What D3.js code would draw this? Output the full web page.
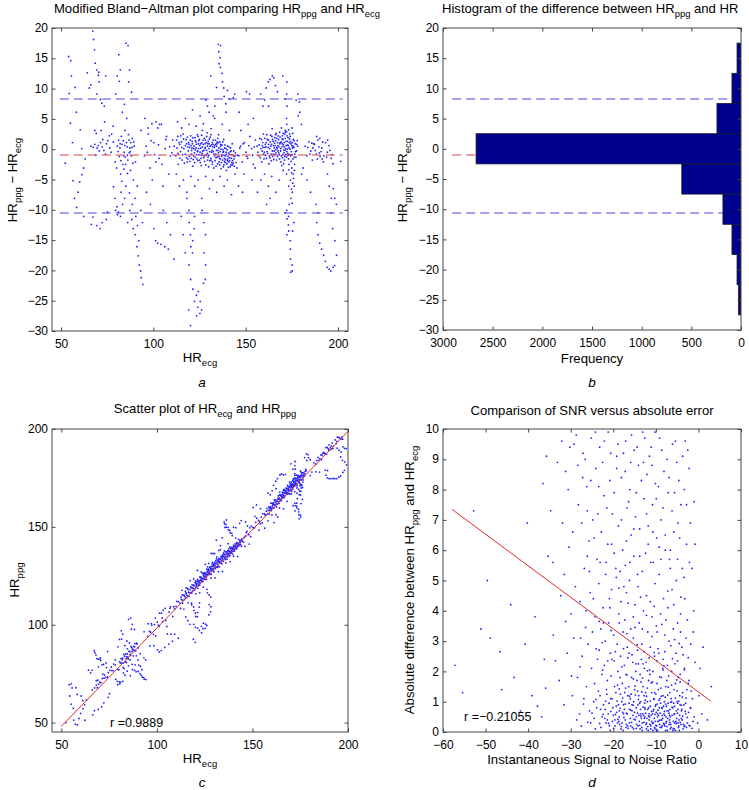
<!DOCTYPE html>
<html><head><meta charset="utf-8">
<script src="https://cdn.jsdelivr.net/npm/d3@7"></script>
<style>body{margin:0;background:#fff} svg{display:block;font-family:"Liberation Sans",Arial,Helvetica,sans-serif}</style>
</head><body>
<svg id="chart" width="749" height="790"></svg>
<script>
// ---------- DATA ----------
// Panel a: [HR_ecg, HR_ppg - HR_ecg]
const baPoints = [
[52.3,-2.3],[54.1,15.3],[55.2,14.6],[55.6,12.1],[54.4,9.2],[55.1,4.3],[56.2,1.1],[56.5,-5.2],[57.3,-8.1],[58.4,-9.6],[59.2,-7.1],[60.1,-5.4],[61.3,-4.2],[62.2,-3.1],[57.6,10.2],[58.3,6.1],[60.4,3.2],[61.2,0.1],[63.1,-1.6],[64.2,12.6],[65.3,10.1],[66.1,10.6],[67.2,19.5],[67.6,18.1],[68.1,16.4],[68.5,14.2],[69.3,13.1],[70.2,12.2],[70.6,11.1],[69.4,9.1],[68.3,3.1],[69.1,2.6],[70.4,12.7],[71.3,8.2],[72.1,7.6],[73.4,7.1],[74.2,12.1],[72.2,-12.1],[69.3,-12.6],[66.4,-12.4],[74.5,-11.6],[62.3,-11.1],[75.2,-10.4],[71.1,-13.1],[67.3,-11.2],
[66.2,0.5],[67.4,0.3],[68.3,0.8],[69.5,0.2],[70.1,0.6],[71.4,1.1],[72.3,0.4],[73.2,-0.2],[74.6,0.9],[75.3,1.4],[76.4,0.2],[77.1,-0.5],[70.7,-0.3],[72.6,1.6],[74.1,-0.8],[76.2,2.2],[78.3,1.2],[68.8,-1.0],[71.7,3.1],[73.6,4.5],
[77.4,2.5],[78.2,3.8],[79.3,-2.1],[80.1,-3.1],[80.5,0.5],[81.2,1.5],[81.6,-1.2],[82.3,-4.1],[82.7,2.1],[83.1,0.8],[83.5,-2.5],[84.2,-0.5],[84.6,3.1],[85.1,-6.1],[85.4,1.1],[86.2,-1.8],[86.5,2.4],[87.3,0.2],[87.6,-3.5],[88.1,-1.1],[88.5,1.8],[89.2,-5.1],[89.6,0.5],[90.3,-2.1],[78.4,-6.2],[79.2,-8.1],[80.3,-9.5],[81.1,-10.4],[82.2,-11.1],[80.6,-10.8],[79.5,-10.1],[82.5,-7.1],[83.3,-9.1],[84.4,-8.1],[81.3,15.6],[80.4,12.1],[81.5,11.2],[82.1,13.1],[79.6,9.1],[85.2,17.5],[86.3,17.1],[87.1,13.1],[86.6,11.1],[88.2,9.4],[84.3,7.4],[83.2,6.1],[85.6,5.1],[86.1,-12.1],[87.2,-10.1],[88.3,-11.6],[89.1,-13.1],[90.2,-14.1],[91.1,-16.1],[91.8,-17.6],[92.3,-19.1],[93.1,-20.1],[93.4,-21.2],[94.3,-22.3],[92.1,-15.1],[91.4,-12.6],[90.5,-11.1],[88.6,-9.1],[90.1,-8.1],[91.3,-6.1],[93.2,-10.1],[94.1,-12.1],
[80.9,-0.4],[81.9,0.2],[82.4,-1.9],[83.7,1.4],[84.8,-1.3],[85.8,0.4],[86.9,-0.6],[87.8,1.1],[88.9,-2.3],[89.4,1.2],[84.0,-3.3],[86.0,-4.0],[82.9,-5.3],[87.0,-7.2],
[84.5,0.6],[85.9,-1.0],[86.8,1.5],[87.5,-0.4],[88.4,0.3],[85.0,-2.5],[83.9,-1.1],[82.0,0.9],
[95.2,-1.1],[96.1,0.5],[97.3,2.5],[98.2,-3.1],[99.4,-5.1],[100.2,1.1],[101.3,-2.1],[102.4,3.5],[103.1,-1.5],[104.3,4.1],[105.2,-6.1],[106.4,0.1],[107.1,2.1],[108.3,-4.1],[109.2,-1.1],[110.4,1.5],[96.3,-7.1],[98.4,-9.1],[100.3,-13.1],[101.2,-15.1],[102.3,-15.5],[104.1,-15.7],[106.2,-16.1],[108.1,-16.5],[109.3,-14.1],[111.2,-18.1],[105.4,-10.1],[107.3,-12.1],[97.1,3.5],[99.2,4.2],[101.4,4.5],[103.3,4.1],[95.4,5.1],[93.3,3.1],
[96.7,-0.5],[98.7,1.4],[100.7,-0.9],[102.8,0.7],[104.7,-2.5],[106.8,1.6],[108.8,0.4],[110.0,-0.6],
[111.3,0.5],[112.1,-1.1],[112.6,1.5],[113.2,2.1],[113.5,-2.5],[114.3,0.8],[114.7,-0.4],[115.2,1.2],[115.6,-1.8],[116.1,2.5],[116.5,0.1],[117.2,-0.8],[117.7,1.6],[118.3,-2.1],[118.6,0.4],[119.1,1.1],[119.5,-1.2],[120.2,2.2],[120.7,-0.2],[121.1,0.9],[121.4,-2.8],[122.2,-0.6],[122.8,1.4],[123.1,0.2],[123.6,-1.6],[124.2,2.1],[124.7,-0.9],[125.1,0.6],[125.4,-2.2],[126.3,1.1],[126.8,-0.3],[127.2,-1.4],[127.6,1.8],[128.1,0.3],[128.4,-2.6],[129.2,-0.7],[129.7,1.3],[130.1,0.1],[130.6,-1.9],[131.2,2.4],[131.5,-0.5],[132.3,0.8],[132.7,-3.1],[133.1,-1.1],[133.6,1.5],[134.2,-0.2],[134.8,-2.4],[135.1,1.1],[135.4,-1.2],[136.2,-0.4],[136.7,-3.2],[137.1,0.7],[137.5,-1.8],[138.2,-2.6],[138.6,0.2],[139.1,-1.1],[139.6,-3.5],[140.2,0.5],[140.7,-2.1],[141.1,-0.8],[141.6,-2.9],[142.2,-1.5],[142.7,0.9],[143.2,-2.3],[143.5,-0.3],[144.1,-1.2],[145.3,-3.1],
[120.4,0.6],[121.8,-1.1],[122.5,1.9],[123.9,-0.3],[124.4,0.9],[125.8,-1.5],[126.1,2.3],[127.9,0.1],[128.7,1.1],[129.4,-1.8],[130.3,1.7],[131.8,-2.5],[132.1,0.4],[133.8,-0.8],[134.5,1.2],[135.7,-2.1],[136.4,0.5],[137.8,-0.5],[138.4,-1.5],[139.3,0.1],[140.4,-1.2],[141.8,0.2],[142.4,-2.2],[129.1,2.7],[131.3,3.4],[126.5,3.1],[135.3,2.4],[138.1,1.6],
[112.8,0.2],[113.3,-0.7],[113.9,1.1],[114.4,-1.5],[114.9,2.2],[115.4,0.3],[115.8,-0.9],[116.3,1.7],[116.8,-2.3],[117.3,0.6],[117.9,-1.4],[118.4,2.0],[118.9,-0.3],[119.3,0.8],[119.8,-2.0],[120.0,1.5],[120.6,-0.8],[120.9,0.2],[121.3,1.9],[121.6,-1.7],[122.0,0.5],[122.4,-2.2],[122.7,-0.1],[123.0,1.2],[123.4,-0.9],[123.8,2.4],[124.1,-1.9],[124.5,0.1],[124.9,1.6],[125.3,-0.5],[125.6,0.9],[125.9,-2.7],[126.2,-1.0],[126.6,0.4],[126.9,1.5],[127.3,-0.2],[127.7,-2.0],[128.0,0.9],[128.5,-1.0],[128.9,2.1],[129.3,0.5],[129.6,-1.3],[129.9,-2.9],[130.2,0.9],[130.5,-0.4],[130.8,2.0],[131.1,-1.5],[131.4,0.7],[131.7,-0.2],[132.0,-2.1],[132.4,1.5],[132.8,-0.8],[133.0,0.3],[133.4,-1.9],[133.7,0.8],[134.0,-2.8],[134.3,0.5],[134.6,-1.3],[134.9,1.8],[135.2,-0.6],[135.5,0.2],[135.9,-2.6],[136.0,1.2],[136.3,-1.6],[136.6,0.0],[136.9,-2.2],[137.3,-0.9],[137.6,1.2],[137.9,-2.9],[138.0,-0.4],[138.5,-2.0],[138.8,0.7],[139.0,-1.7],[139.4,-0.5],[139.8,-2.4],[140.0,-0.1],[140.3,-1.6],[140.6,-3.0],[140.9,0.4],[141.3,-1.9],[141.7,-0.4],[142.0,-2.6],[142.5,-0.9],[142.9,-1.9],[143.4,-1.1],[143.8,-2.8],[144.4,-0.6],[144.8,-2.2],[145.6,-1.0],
[118.0,0.9],[118.7,-1.6],[119.6,0.3],[120.5,-1.5],[121.0,1.3],[121.9,0.1],[122.6,-1.3],[123.3,0.8],[124.0,-0.4],[124.6,1.4],[125.0,-1.8],[125.7,0.2],[126.4,-0.7],[127.0,0.8],[127.5,-1.1],[128.2,1.5],[128.8,-0.2],[129.5,0.9],[130.0,-1.0],[130.7,0.5],[131.3,-1.8],[131.9,1.1],[132.5,-0.4],[133.2,0.6],[133.9,-1.4],[134.4,0.9],[135.0,-0.2],[135.8,-1.5],[136.5,0.8],[137.0,-1.2],[137.7,-0.1],[138.3,-1.0],[138.9,-2.2],[139.5,-0.8],[140.1,-1.9],[140.8,-0.6],[141.4,-1.4],[142.1,-0.3],[142.8,-2.6],[143.6,-1.6],
[112.4,-4.1],[114.1,-6.1],[116.3,-5.1],[118.1,-7.1],[120.3,-4.5],[122.4,-6.1],[124.3,-5.1],[126.2,-8.1],[128.3,-4.5],[130.4,-6.5],[132.2,-5.1],[134.3,-7.1],[136.1,-4.5],[138.3,-6.1],[140.1,-5.1],[142.3,-7.5],[144.2,-4.1],[146.1,-6.1],[113.1,4.5],[115.3,3.5],[117.4,5.1],[119.3,4.1],[121.2,6.5],[123.2,3.8],[125.3,5.5],[127.1,4.2],[129.3,7.1],[133.2,5.1],[137.3,4.1],[141.2,3.1],
[118.2,-8.1],[119.2,-10.1],[119.4,-12.1],[120.1,-14.1],[120.3,-16.1],[121.2,-17.1],[121.3,-15.1],[122.1,-13.1],[122.3,-11.1],[120.2,-21.5],[119.3,-19.1],[121.4,-23.1],[122.2,-25.1],[123.3,-24.1],[124.1,-26.1],[123.4,-27.5],[125.2,-27.1],[126.1,-26.5],[124.3,-23.5],[125.4,-25.1],[120.1,-29.1],[119.1,-26.5],[127.2,-22.1],[128.1,-21.5],[128.3,-19.1],[127.4,-17.1],[128.2,-14.1],[127.3,-12.1],[126.4,-10.1],[117.3,-17.1],[116.2,-14.1],[115.1,-11.1],
[135.2,17.3],[135.4,16.1],[136.1,15.1],[136.3,13.5],[137.2,12.5],[137.4,11.1],[138.1,10.1],[138.3,8.7],[139.2,7.5],[136.4,17.1],[135.6,14.1],[134.2,10.2],[140.1,9.7],[141.3,8.3],[139.4,6.1],[133.3,7.1],[132.4,5.5],[130.2,6.1],[128.4,8.1],[131.1,12.1],[143.3,8.5],[144.1,9.1],
[146.3,-1.1],[147.2,0.5],[148.1,-2.1],[149.3,1.1],[150.2,-0.5],[151.1,-1.5],[152.3,2.1],[153.2,0.1],[154.1,-2.5],[155.3,1.5],[147.4,3.1],[149.1,-4.1],[151.3,4.1],[153.4,-5.1],[155.1,-3.1],[148.3,-7.1],[150.4,9.5],[152.1,9.1],[146.4,6.1],[154.2,5.1],
[146.8,0.2],[148.6,0.9],[150.6,-1.2],[151.7,0.6],[153.7,-1.0],[154.6,0.4],
[156.2,0.5],[157.1,-1.1],[157.6,1.8],[158.3,0.1],[158.7,-2.1],[159.2,1.1],[159.6,2.5],[160.1,-0.5],[160.6,0.8],[161.2,-1.5],[161.7,1.6],[162.1,0.3],[162.6,-2.4],[163.3,1.2],[163.7,-0.8],[164.2,2.1],[164.6,-1.2],[165.1,0.6],[165.4,-0.3],[166.2,1.4],[166.7,-1.8],[167.1,0.1],[167.6,2.2],[168.2,-0.9],[168.7,1.1],[169.1,-2.1],[169.6,0.4],[170.2,1.6],[170.7,-0.6],[171.1,2.5],[171.6,0.1],[172.2,-1.3],[172.6,1.3],[173.1,0.6],[173.4,-2.5],[174.1,2.1],[174.7,-0.4],[175.2,1.1],[175.6,-1.6],[176.1,0.3],[176.6,-0.8],[177.2,-1.3],[178.1,0.5],
[165.5,0.2],[166.4,-0.6],[167.3,1.1],[168.4,2.8],[169.3,-1.1],[170.4,0.7],[171.3,-0.2],[172.4,2.2],[173.6,1.1],[174.4,-1.1],[175.4,2.6],[171.4,3.1],[173.2,3.2],[169.4,3.5],[175.1,3.5],[164.3,3.4],
[156.6,-0.5],[157.3,0.7],[157.9,-1.4],[158.5,1.6],[158.9,-0.3],[159.4,0.3],[159.9,-1.6],[160.3,1.8],[160.8,-1.0],[161.0,0.4],[161.4,2.4],[161.9,-0.7],[162.3,1.5],[162.8,-1.1],[163.0,0.1],[163.5,2.3],[163.9,-1.9],[164.0,0.8],[164.4,-0.3],[164.9,1.3],[165.2,-1.7],[165.7,1.9],[165.9,-0.9],[166.0,0.6],[166.5,2.6],[166.9,0.3],[167.2,-1.2],[167.5,-0.3],[167.8,1.6],[168.0,0.4],[168.3,-1.6],[168.6,2.0],[168.9,-0.3],[169.2,1.2],[169.5,-2.7],[169.8,0.9],[170.0,-1.4],[170.3,2.6],[170.6,-0.1],[170.9,1.1],[171.0,-1.8],[171.4,1.8],[171.7,-0.9],[171.9,0.6],[172.1,2.9],[172.5,0.0],[172.8,-0.7],[172.9,1.9],[173.2,-1.6],[173.5,0.2],[173.8,2.5],[173.9,-0.9],[174.3,1.3],[174.6,-2.0],[174.9,0.6],[175.0,-3.1],[175.3,0.2],[175.8,1.6],[176.3,-1.3],[176.8,0.9],[177.5,-0.3],[177.9,1.4],[176.5,-2.5],[175.9,-4.8],[175.5,-5.6],[174.8,-6.6],[175.2,-8.9],[174.9,-3.9],
[159.0,0.6],[159.7,-0.8],[160.4,0.3],[161.1,1.1],[161.6,-0.4],[162.4,0.8],[163.1,-1.4],[163.6,0.5],[164.5,1.6],[165.0,-0.8],[165.6,1.0],[166.3,-0.1],[166.8,1.8],[167.4,0.6],[167.9,-0.6],[168.5,0.9],[169.0,0.1],[169.7,1.7],[170.1,-0.9],[170.8,0.4],[171.2,-1.2],[171.8,1.3],[172.3,-0.4],[172.7,0.7],[173.0,-1.0],[173.7,1.7],[174.0,0.0],[174.5,0.9],[175.1,-0.9],[175.7,0.5],[176.2,1.4],[176.9,-0.4],[177.6,0.8],[169.9,2.2],[171.5,2.8],[166.2,2.4],[173.3,-3.4],[170.5,-2.4],
[160.2,-4.1],[162.3,-6.1],[164.1,-4.5],[166.3,-7.1],[168.1,-5.1],[170.3,-3.5],[172.1,-4.1],[173.3,-6.1],[174.2,-5.1],[175.3,-7.1],[176.2,-6.1],[174.5,-8.1],[175.7,-4.1],[176.4,-3.5],[173.5,-9.1],[158.2,-5.1],[156.4,-7.1],[161.3,-9.1],[163.2,-8.1],
[160.3,8.1],[161.1,10.1],[162.2,11.1],[163.1,11.5],[164.4,12.1],[165.2,11.8],[166.1,10.5],[162.4,7.1],[170.1,12.1],[172.3,11.1],[172.2,9.1],[172.4,7.1],[172.1,5.1],[172.3,4.1],[167.2,9.5],[171.2,8.3],[158.1,9.1],[159.3,7.1],[178.2,9.1],[179.1,7.8],[179.3,6.1],[180.2,4.1],[178.4,5.5],[177.3,8.1],
[172.2,-10.1],[172.4,-11.5],[173.1,-12.5],[173.3,-13.5],[172.3,-14.1],[174.1,-15.1],[174.2,-16.5],[174.3,-18.1],[175.1,-19.1],[175.2,-20.1],[174.4,-20.3],[173.2,-11.1],[171.3,-10.5],[175.4,-13.5],[176.1,-12.1],
[182.2,0.5],[183.1,-1.1],[184.3,1.2],[185.2,-0.3],[186.1,-1.8],[187.3,0.8],[188.2,-0.8],[189.1,1.5],[190.3,-1.2],[191.2,0.2],[192.1,-2.1],[193.3,1.1],[194.2,-0.5],[195.1,0.6],[196.3,-1.5],[197.2,-2.4],[188.4,2.1],[190.1,1.8],[186.4,0.2],[194.4,1.5],[192.3,-1.1],
[183.6,0.3],[184.8,-0.8],[186.8,0.9],[188.8,-1.6],[189.6,0.4],[190.8,-0.4],[191.7,1.2],[193.8,-1.3],[195.6,-0.2],[196.8,-0.9],[189.9,-0.6],[191.4,-1.6],[187.7,-0.2],[185.8,1.0],
[188.1,-9.1],[188.5,-12.1],[189.2,-14.1],[190.1,-15.5],[191.1,-16.5],[192.2,-17.5],[193.1,-18.5],[194.1,-19.5],[195.2,-19.8],[196.1,-20.1],[197.3,-19.5],[198.1,-19.2],[199.2,-17.5],[198.3,-15.1],[197.1,-13.1],[196.2,-10.5],[196.4,-8.1],[195.3,-6.1],[194.3,-4.1],[197.4,-6.5],[198.2,-8.1],[199.1,-9.1],[189.3,-10.5],[185.1,-7.1],[183.2,-5.1],[181.1,-3.1],[180.3,-4.1],[201.5,-2.0]
];
const baMean = -1.1, baUpper = 8.4, baLower = -10.6;

// Panel b: histogram of differences
const histCenters = [-25, -20, -15, -10, -5, 0, 5, 10, 15];
const histCounts  = [24, 40, 91, 182, 596, 2667, 242, 91, 40];
const histBinWidth = 5;

// Panel c: fitted line end points and correlation
const fitC = [[50, 48.1], [200, 198.8]];
const labelC = "r =0.9889";

// Panel d: [instantaneous SNR, |HR_ppg - HR_ecg|]
const snrPoints = [
[-57.2,2.2],[-55.4,1.3],[-52.8,7.3],[-51.1,3.4],[-49.6,5.0],[-48.9,3.1],[-46.2,1.4],[-44.1,4.2],[-43.3,1.8],[-41.8,0.7],[-40.7,2.9],[-40.2,6.9],[-39.1,1.2],[-38.4,3.8],[-36.8,0.5],[-36.2,2.4],[-35.3,5.8],[-35.7,9.1],[-34.1,3.2],[-34.7,7.3],[-32.7,1.7],[-32.3,4.5],[-31.6,0.9],[-31.2,8.6],[-30.8,2.6],[-30.4,6.1],[-29.9,3.9],[-29.6,1.2],[-29.2,9.5],[-28.9,4.8],[-28.6,0.4],
[-28.2,7.5],[-27.7,3.1],[-28.4,1.8],[-27.9,0.6],[-27.1,9.2],[-26.8,5.4],[-27.3,2.5],[-26.9,1.1],[-27.5,0.2],[-26.2,8.1],[-25.7,6.3],[-26.4,4.0],[-25.9,2.9],[-26.3,1.5],[-25.6,0.7],[-25.2,9.7],[-24.8,7.0],[-25.4,4.6],[-24.9,3.3],[-25.1,2.1],[-24.6,1.0],[-25.3,0.3],[-24.1,8.7],[-23.8,5.7],[-24.3,3.8],[-23.7,2.4],[-24.4,1.6],[-23.9,0.8],[-24.2,0.1],[-23.2,9.4],[-22.8,6.6],[-23.4,4.9],[-22.9,3.4],[-23.3,2.7],[-22.7,1.9],[-23.1,1.2],[-22.6,0.5],[-22.2,7.8],[-21.8,5.2],[-22.4,4.1],[-21.9,3.0],[-22.1,2.2],[-21.6,1.4],[-22.3,0.9],[-21.7,0.3],[-21.2,9.9],[-20.8,8.3],[-21.3,6.2],[-20.9,4.4],[-21.1,3.6],[-20.7,2.6],[-21.4,1.7],[-20.6,1.1],[-21.2,0.6],[-20.9,0.2],[-20.2,7.2],[-19.8,5.9],[-20.4,4.7],[-19.9,3.2],[-20.3,2.4],[-19.7,1.5],[-20.1,0.8],[-19.6,0.4],
[-19.2,9.1],[-18.8,6.8],[-19.3,5.1],[-18.7,3.9],[-19.1,2.9],[-18.9,2.0],[-19.4,1.3],[-18.6,0.7],[-19.0,0.3],[-18.4,1.8],[-18.6,0.5],[-18.1,8.4],[-17.8,6.0],[-18.2,4.3],[-17.7,3.3],[-18.3,2.5],[-17.9,1.6],[-18.0,1.0],[-17.6,0.6],[-18.2,0.1],[-17.4,2.2],[-17.6,0.9],[-17.1,9.6],[-16.8,7.4],[-17.2,5.5],[-16.9,4.6],[-17.3,3.7],[-16.7,2.8],[-17.0,1.9],[-16.6,1.2],[-17.2,0.4],[-16.4,1.5],[-16.6,0.2],[-16.1,8.0],[-15.8,6.5],[-16.2,5.0],[-15.9,3.4],[-16.3,2.6],[-15.7,1.8],[-16.0,1.1],[-15.6,0.7],[-16.2,0.3],[-15.4,2.3],[-15.6,0.9],[-15.1,9.3],[-14.8,7.1],[-15.2,5.8],[-14.9,4.2],[-15.3,3.1],[-14.7,2.0],[-15.0,1.4],[-14.6,0.5],[-15.2,0.1],[-14.4,1.7],[-14.6,0.8],[-14.1,8.8],[-13.8,6.7],[-14.2,4.8],[-13.9,3.6],[-14.3,2.7],[-13.7,1.9],[-14.0,1.2],[-13.6,0.6],[-14.2,0.2],[-13.4,2.4],[-13.6,1.0],[-13.1,9.9],[-12.8,7.7],[-13.2,5.3],[-12.9,4.0],[-13.3,2.9],[-12.7,2.1],[-13.0,1.5],[-12.6,0.8],[-13.2,0.3],[-12.4,1.3],[-12.6,0.5],[-12.1,8.5],[-11.8,6.2],[-12.2,4.5],[-11.9,3.3],[-12.3,2.3],[-11.7,1.7],[-12.0,1.0],[-11.6,0.6],[-12.2,0.1],[-11.4,1.9],[-11.6,0.4],[-11.1,9.4],[-10.8,7.5],[-11.2,5.6],[-10.9,3.8],[-11.3,2.8],[-10.7,2.0],[-11.0,1.3],[-10.6,0.7],[-11.2,0.2],[-10.4,1.1],[-10.6,0.3],[-10.1,8.2],[-9.8,6.4],[-10.2,4.9],[-9.9,3.5],[-10.3,2.5],[-9.7,1.6],[-10.0,0.9],[-9.6,0.5],[-10.2,0.1],
[-9.4,1.4],[-9.6,0.6],[-9.1,9.7],[-8.8,7.0],[-9.2,5.2],[-8.9,3.9],[-9.3,2.6],[-8.7,1.8],[-9.0,1.1],[-8.6,0.4],[-8.4,2.1],[-8.6,0.8],[-8.5,0.2],[-8.1,8.6],[-7.8,6.0],[-8.2,4.4],[-7.9,3.2],[-8.3,2.4],[-7.7,1.5],[-8.0,1.0],[-7.6,0.5],[-7.4,1.7],[-7.6,0.3],[-7.1,7.9],[-6.8,5.7],[-7.2,4.1],[-6.9,3.0],[-7.3,2.2],[-6.7,1.3],[-7.0,0.7],[-6.6,0.1],[-6.4,1.1],[-6.6,0.5],[-6.1,9.5],[-5.8,6.6],[-6.2,4.7],[-5.9,3.4],[-6.3,2.0],[-5.7,1.4],[-6.0,0.8],[-5.6,0.3],[-5.4,1.6],[-5.6,0.6],[-5.1,8.9],[-4.8,6.9],[-5.2,5.0],[-4.9,3.6],[-5.3,2.6],[-4.7,1.8],[-5.0,1.0],[-4.6,0.4],[-4.4,1.2],[-4.6,0.2],[-4.1,7.5],[-3.8,5.4],[-4.2,3.9],[-3.9,2.8],[-4.3,1.9],[-3.7,1.3],[-4.0,0.7],[-3.6,0.1],[-3.4,0.9],[-3.1,9.6],[-2.8,6.2],[-3.2,4.4],[-2.9,3.1],[-3.3,2.1],[-2.7,1.4],[-3.0,0.6],[-2.4,1.6],[-2.6,0.3],[-2.1,5.6],[-1.8,2.9],[-2.2,1.7],[-1.9,0.8],[-2.0,0.2],[-1.4,1.1],[-1.1,4.0],[-0.8,2.3],[-1.0,0.5],[0.1,1.2],[-0.2,0.3],[1.1,2.8],[0.8,0.6],[2.1,0.4],[3.0,1.5],
[-32.1,9.6],[-30.2,9.4],[-28.3,8.8],[-27.4,6.9],[-26.6,9.0],[-25.3,8.3],[-24.2,9.9],[-23.6,7.2],[-22.5,8.9],[-21.7,5.6],[-20.6,9.2],[-19.8,7.9],[-18.9,9.5],[-18.1,7.0],[-17.2,8.6],[-16.4,7.6],[-15.7,9.8],[-14.6,7.9],[-13.4,8.3],[-12.6,9.7],[-11.8,6.8],[-10.9,8.8],[-10.2,9.9],[-9.4,8.1],[-8.6,9.3],[-7.8,6.5],[-6.9,8.4],[-6.2,7.3],[-5.4,9.6],[-4.6,8.3],[-3.7,9.1],[-2.8,7.5],[-2.2,8.7],[-1.5,5.4],[-0.8,6.2],
[-36.5,8.2],[-34.2,5.6],[-33.1,8.9],[-31.9,6.9],[-30.6,8.0],[-29.5,6.6],[-28.7,9.8],[-27.2,8.4],[-26.1,7.3],[-25.6,5.3],[-24.5,6.4],[-23.4,8.1],[-22.1,9.6],[-21.5,7.4],[-20.4,6.2],[-19.2,8.7],[-18.4,5.3],[-17.6,9.2],[-16.9,6.3],[-15.9,8.9],[-15.2,6.7],[-14.4,9.4],[-13.8,5.8],[-12.9,8.9],[-12.2,7.2],[-11.5,9.1],[-10.7,6.6],[-9.9,7.7],[-9.2,6.1],[-8.3,7.4],[-7.4,9.0],[-6.6,6.0],[-5.6,7.9],[-4.4,6.4],[-3.3,8.0],[-2.5,9.3],[-1.9,6.9],[-1.0,7.6],
[-31.5,5.2],[-29.3,3.1],[-27.8,4.3],[-26.1,5.8],[-24.7,4.4],[-23.1,5.6],[-22.3,3.6],[-20.8,4.1],[-19.4,5.4],[-18.6,3.6],[-17.5,4.8],[-16.1,5.6],[-15.3,3.8],[-14.3,5.2],[-13.2,3.4],[-12.4,5.9],[-11.3,4.3],[-10.6,5.6],[-9.7,3.3],[-8.8,5.7],[-7.6,3.7],[-6.6,5.4],[-5.8,4.2],[-4.9,5.7],[-4.2,3.3],[-3.4,5.1],[-2.6,3.7],[-1.2,3.3],[0.4,2.1],
[-24.0,2.75],[-23.3,3.65],[-22.6,2.95],[-21.3,2.35],[-20.5,3.35],[-19.5,2.65],[-18.7,4.75],[-17.6,2.75],[-16.8,3.25],[-16.5,4.25],[-15.6,2.55],[-14.9,3.45],[-14.1,2.25],[-13.6,4.45],[-12.8,2.65],[-12.2,3.85],[-11.6,2.45],[-10.9,3.15],[-10.4,4.15],[-9.5,2.75],[-8.6,3.55],[-7.9,2.65],[-7.2,4.65],[-6.5,2.85],[-5.6,3.05],[-4.9,2.35],[-4.1,4.45],[-3.6,2.55],[-2.4,2.45],[-26.5,3.45],[-27.8,2.15],[-29.8,1.85],[-31.2,3.65],[-33.6,2.35],[-35.9,1.45],[-37.8,0.85],[-44.8,0.65],[-46.6,2.65],
[-21.4,0.4],[-20.3,1.1],[-19.6,0.2],[-18.8,0.9],[-17.9,0.3],[-17.3,1.3],[-16.7,0.6],[-15.9,0.2],[-15.2,1.0],[-14.8,0.4],[-14.2,0.9],[-13.7,0.1],[-13.1,0.6],[-12.8,1.2],[-12.2,0.3],[-11.7,0.8],[-11.2,0.1],[-10.8,0.6],[-10.3,1.3],[-9.8,0.2],[-9.2,0.8],[-8.8,0.4],[-8.3,1.2],[-7.9,0.2],[-7.4,0.7],[-6.8,0.4],[-6.3,1.0],[-5.7,0.1],[-5.2,0.7],[-4.8,0.3],[-4.3,0.9],[-3.8,0.4],[-3.2,0.2],[-9.6,0.05],[-11.5,0.5],[-8.1,0.6],[-10.1,0.35],[-12.5,0.75],[-7.2,0.45],[-13.4,0.45],
[-24.5,0.45],[-23.5,1.35],[-22.9,0.15],[-22.5,2.05],[-21.9,0.75],[-21.5,1.25],[-20.7,0.05],[-20.5,1.85],[-20.0,0.55],[-19.8,2.35],[-19.3,0.85],[-19.0,1.55],[-18.7,0.35],[-18.3,1.25],[-18.0,2.15],[-17.7,0.05],[-17.4,0.75],[-17.1,1.45],[-16.9,0.25],[-16.6,2.45],[-16.3,0.95],[-16.0,0.45],[-15.8,1.25],[-15.5,0.15],[-15.3,1.75],[-15.0,0.65],[-14.7,2.25],[-14.5,0.25],[-14.3,1.35],[-14.0,0.55],[-13.8,0.95],[-13.5,1.65],[-13.3,0.15],[-13.0,2.25],[-12.7,0.45],[-12.5,1.05],[-12.3,0.25],[-12.0,1.45],[-11.8,0.05],[-11.5,2.05],[-11.3,0.85],[-11.0,0.35],[-10.8,1.65],[-10.5,0.75],[-10.3,0.15],[-10.0,1.25],[-9.8,2.35],[-9.5,0.35],[-9.3,1.05],[-9.0,0.15],[-8.8,1.45],[-8.5,0.55],[-8.3,2.05],[-8.0,0.25],[-7.8,1.15],[-7.5,0.85],[-7.3,0.05],[-7.0,1.85],[-6.8,0.55],[-6.5,0.25],[-6.3,1.55],[-6.0,0.05],[-5.8,0.95],[-5.5,2.25],[-5.3,0.35],[-5.0,1.35],[-4.8,0.75],[-4.5,0.05],[-4.3,1.65],[-4.0,0.45],[-3.8,1.15],[-3.5,0.25],[-3.3,2.05],[-3.0,0.95],[-2.8,0.15],[-2.3,0.65],[-1.7,1.35],[-1.3,0.35],
[-13.9,0.35],[-13.6,0.75],[-13.2,0.05],[-12.9,0.55],[-12.6,0.95],[-12.1,0.45],[-11.9,0.75],[-11.4,0.25],[-11.1,0.55],[-10.7,0.05],[-10.4,0.45],[-10.1,0.85],[-9.9,0.65],[-9.7,0.05],[-9.4,0.55],[-9.1,0.25],[-8.9,0.95],[-8.7,0.15],[-8.4,0.45],[-8.2,0.85],[-7.9,0.55],[-7.7,0.05],[-7.5,0.35],[-7.1,0.95],[-6.9,0.25],[-6.7,0.75],[-6.4,0.15],[-6.2,0.55],[-5.9,0.35],[-5.6,0.85],[-5.4,0.05],[-5.1,0.45],[-4.9,0.95],[-4.7,0.15],[-4.4,0.55],[-4.1,0.25],[-3.9,0.75],[-15.4,0.55],[-16.2,0.75],[-17.0,0.15],[-17.8,0.65],[-18.5,0.25],[-19.2,0.65],[-20.2,0.35],[-21.0,0.95],[-22.0,0.45],[-23.0,0.75],
[-19.9,0.12],[-19.5,0.58],[-19.1,1.02],[-18.9,0.42],[-18.4,0.78],[-18.1,0.18],[-17.8,1.12],[-17.5,0.48],[-17.2,0.92],[-16.9,0.62],[-16.5,0.12],[-16.2,1.18],[-15.9,0.72],[-15.7,0.32],[-15.3,0.88],[-15.1,0.42],[-14.8,1.22],[-14.6,0.12],[-14.3,0.62],[-14.1,1.08],[-13.8,0.22],[-13.5,0.52],[-13.3,1.32],[-13.0,0.82],[-12.8,0.32],[-12.4,0.62],[-12.2,1.18],[-11.9,0.18],[-11.7,0.52],[-11.3,1.02],[-11.0,0.68],[-10.8,0.28],[-10.5,1.08],[-10.2,0.58],[-10.0,0.22],[-9.7,0.92],[-9.5,0.72],[-9.2,0.38],[-9.0,0.62],[-8.7,1.18],[-8.5,0.78],[-8.2,0.28],[-8.0,0.68],[-7.7,0.92],[-7.4,0.18],[-7.2,1.22],[-6.9,0.62],[-6.7,0.32],[-6.5,0.98],[-6.2,0.82],[-5.9,0.12],[-5.7,0.58],[-5.4,1.12],[-5.2,0.28],[-4.9,0.62],[-4.6,1.02],[-4.3,0.32],[-4.0,0.88],[-3.7,0.52],[-3.4,0.18],[-3.1,0.68],[-2.9,1.12],[-2.6,0.48],[-2.2,0.22],[-1.8,0.78],[-1.5,0.12],[-20.6,0.68],[-21.1,0.28],[-21.8,1.02],[-22.4,0.58],[-23.2,0.28],[-24.1,1.08],[-25.0,0.62],[-26.0,0.32],[-27.0,0.92],[-14.9,1.52],[-13.1,1.78],[-11.1,1.62],[-9.1,1.82],[-7.1,1.48],[-5.1,1.72],[-16.8,1.88],[-18.6,1.42],[-12.0,2.02],[-8.1,2.18],[-6.1,2.42],[-10.4,2.62],[-14.4,2.88],[-4.5,2.92]
];
const fitD = [[-57.9, 7.35], [2.9, 1.02]];
const labelD = "r =\u22120.21055";

// Tick values
const ticksA_x = [50, 100, 150, 200];
const ticksAB_y = [-30, -25, -20, -15, -10, -5, 0, 5, 10, 15, 20];
const ticksB_x = [3000, 2500, 2000, 1500, 1000, 500, 0];
const ticksC = [50, 100, 150, 200];
const ticksD_x = [-60, -50, -40, -30, -20, -10, 0, 10];
const ticksD_y = [0, 1, 2, 3, 4, 5, 6, 7, 8, 9, 10];

// ---------- DRAW ----------
const svg = d3.select("#chart");
const AX = "#444";
const DOT = "#2222ff";
const TICK_FS = 12, TITLE_FS = 13.1, LABEL_FS = 13.2;

function rich(sel, parts, size) {
  let sub = false;
  parts.forEach(([t, s]) => {
    const ts = sel.append("tspan").text(t);
    if (s && !sub) { ts.attr("dy", size * 0.32).attr("font-size", size * 0.72); sub = true; }
    else if (s) { ts.attr("font-size", size * 0.72); }
    else if (!s && sub) { ts.attr("dy", -size * 0.32); sub = false; }
  });
}

function frame(x, y, xt, yt) {
  const [x0, x1] = x.range(), [y0, y1] = y.range();
  const g = svg.append("g");
  const style = a => { a.select(".domain").remove(); a.selectAll("line").attr("stroke", AX); a.selectAll("text").attr("fill", "#000").attr("font-size", TICK_FS); };
  g.append("g").attr("transform", `translate(0,${y0})`)
    .call(d3.axisBottom(x).tickValues(xt).tickFormat(d3.format("")).tickSizeInner(-3.5).tickSizeOuter(0).tickPadding(8.5)).call(style);
  g.append("g").attr("transform", `translate(0,${y1})`)
    .call(d3.axisTop(x).tickValues(xt).tickFormat("").tickSizeInner(-3.5).tickSizeOuter(0)).call(style);
  const ya = g.append("g").attr("transform", `translate(${x0},0)`)
    .call(d3.axisLeft(y).tickValues(yt).tickFormat(d3.format("")).tickSizeInner(-3.5).tickSizeOuter(0).tickPadding(4)).call(style);
  ya.selectAll("text").attr("dy", "0.3em");
  g.append("g").attr("transform", `translate(${x1},0)`)
    .call(d3.axisRight(y).tickValues(yt).tickFormat("").tickSizeInner(-3.5).tickSizeOuter(0)).call(style);
  g.append("rect").attr("x", x0).attr("y", y1).attr("width", x1 - x0).attr("height", y0 - y1)
    .attr("fill", "none").attr("stroke", AX).attr("stroke-width", 1);
  return g;
}

function textAt(x, y, parts, size, anchor, rotate, italic) {
  const t = svg.append("text").attr("font-size", size).attr("fill", "#000")
    .attr("text-anchor", anchor || "middle");
  if (rotate) t.attr("transform", `translate(${x},${y}) rotate(-90)`);
  else t.attr("x", x).attr("y", y);
  if (italic) t.attr("font-style", "italic");
  rich(t, parts, size);
  return t;
}

function clip(id, x, y) {
  const [x0, x1] = x.range(), [y0, y1] = y.range();
  svg.append("clipPath").attr("id", id).append("rect")
    .attr("x", x0).attr("y", y1).attr("width", x1 - x0).attr("height", y0 - y1);
}

function hline(g, x1, x2, y, color) {
  // centre on an odd pixel row so the thin coloured line keeps its hue
  const yy = 2 * Math.round((y - 1) / 2) + 1;
  g.append("line").attr("x1", x1).attr("x2", x2).attr("y1", yy).attr("y2", yy)
    .attr("stroke", color).attr("stroke-width", 1.1).attr("stroke-dasharray", "9,5");
}

const BLUE_DASH = "#4646e8", RED_DASH = "#e04545";

// ---- Panel a ----
const xA = d3.scaleLinear().domain([45.1, 205.4]).range([52, 348]);
const yA = d3.scaleLinear().domain([-30, 20]).range([331, 28]);
clip("ca", xA, yA);
const gA = svg.append("g").attr("clip-path", "url(#ca)");
gA.selectAll("circle").data(baPoints).join("circle")
  .attr("cx", d => xA(d[0])).attr("cy", d => yA(d[1])).attr("r", 0.9).attr("fill", DOT);
const exA = d3.extent(baPoints, d => d[0]);
[[baUpper, BLUE_DASH], [baMean, RED_DASH], [baLower, BLUE_DASH]].forEach(([v, c]) => {
  hline(gA, xA(exA[0] - 3), xA(exA[1] + 1), yA(v), c);
});
frame(xA, yA, ticksA_x, ticksAB_y);
textAt(217, 13, [["Modified Bland\u2212Altman plot comparing HR"], ["ppg", 1], [" and HR"], ["ecg", 1]], TITLE_FS);
textAt(200, 362, [["HR"], ["ecg", 1]], LABEL_FS);
textAt(202, 387, [["a"]], 13.5, "middle", false, true);
textAt(17, 180, [["HR"], ["ppg", 1], [" \u2212 HR"], ["ecg", 1]], LABEL_FS, "middle", true);

// ---- Panel b ----
const xB = d3.scaleLinear().domain([3000, 0]).range([443, 741]);
const yB = d3.scaleLinear().domain([-30, 20]).range([330, 28]);
clip("cb", xB, yB);
const gB = svg.append("g").attr("clip-path", "url(#cb)");
const maxCount = d3.max(histCounts);
[[baUpper, BLUE_DASH], [baMean, RED_DASH], [baLower, BLUE_DASH]].forEach(([v, c]) => {
  hline(gB, xB(maxCount * 1.09), xB(0), yB(v), c);
});
gB.selectAll("rect.bar").data(histCenters).join("rect").attr("class", "bar")
  .attr("x", (d, i) => xB(histCounts[i])).attr("width", (d, i) => xB(0) - xB(histCounts[i]))
  .attr("y", d => yB(d + histBinWidth / 2)).attr("height", d => yB(d - histBinWidth / 2) - yB(d + histBinWidth / 2))
  .attr("fill", "#00008f").attr("stroke", "#1a1a2a").attr("stroke-width", 0.8);
frame(xB, yB, ticksB_x, ticksAB_y);
textAt(442, 13, [["Histogram of the difference between HR"], ["ppg", 1], [" and HR"]], TITLE_FS, "start");
textAt(592, 363, [["Frequency"]], LABEL_FS);
textAt(592, 387, [["b"]], 13.5, "middle", false, true);
textAt(407, 180, [["HR"], ["ppg", 1], [" \u2212 HR"], ["ecg", 1]], LABEL_FS, "middle", true);

// ---- Panel c ----
const xC = d3.scaleLinear().domain([45.1, 200]).range([52, 348]);
const yC = d3.scaleLinear().domain([45.2, 200]).range([732, 429]);
clip("cc", xC, yC);
const gC = svg.append("g").attr("clip-path", "url(#cc)");
gC.selectAll("circle").data(baPoints).join("circle")
  .attr("cx", d => xC(d[0])).attr("cy", d => yC(d[0] + d[1])).attr("r", 0.9).attr("fill", DOT);
gC.append("line").attr("x1", xC(fitC[0][0])).attr("y1", yC(fitC[0][1])).attr("x2", xC(fitC[1][0])).attr("y2", yC(fitC[1][1]))
  .attr("stroke", "#e02a2a").attr("stroke-width", 1);
frame(xC, yC, ticksC, ticksC);
textAt(110, 727, [[labelC]], 12.5, "start");
textAt(205, 413, [["Scatter plot of HR"], ["ecg", 1], [" and HR"], ["ppg", 1]], TITLE_FS);
textAt(200, 763, [["HR"], ["ecg", 1]], LABEL_FS);
textAt(202, 787, [["c"]], 13.5, "middle", false, true);
textAt(19, 580, [["HR"], ["ppg", 1]], LABEL_FS, "middle", true);

// ---- Panel d ----
const xD = d3.scaleLinear().domain([-60, 10]).range([443, 741]);
const yD = d3.scaleLinear().domain([0, 10]).range([732, 429]);
clip("cd", xD, yD);
const gD = svg.append("g").attr("clip-path", "url(#cd)");
gD.selectAll("circle").data(snrPoints).join("circle")
  .attr("cx", d => xD(d[0])).attr("cy", d => yD(d[1])).attr("r", 0.9).attr("fill", DOT);
gD.append("line").attr("x1", xD(fitD[0][0])).attr("y1", yD(fitD[0][1])).attr("x2", xD(fitD[1][0])).attr("y2", yD(fitD[1][1]))
  .attr("stroke", "#e02a2a").attr("stroke-width", 1);
frame(xD, yD, ticksD_x, ticksD_y);
textAt(464, 721, [[labelD]], 12.5, "start");
textAt(592, 415, [["Comparison of SNR versus absolute error"]], TITLE_FS);
textAt(592, 764, [["Instantaneous Signal to Noise Ratio"]], LABEL_FS);
textAt(592, 787, [["d"]], 13.5, "middle", false, true);
textAt(414, 580, [["Absolute difference between HR"], ["ppg", 1], [" and HR"], ["ecg", 1]], LABEL_FS, "middle", true);
</script>
</body></html>
